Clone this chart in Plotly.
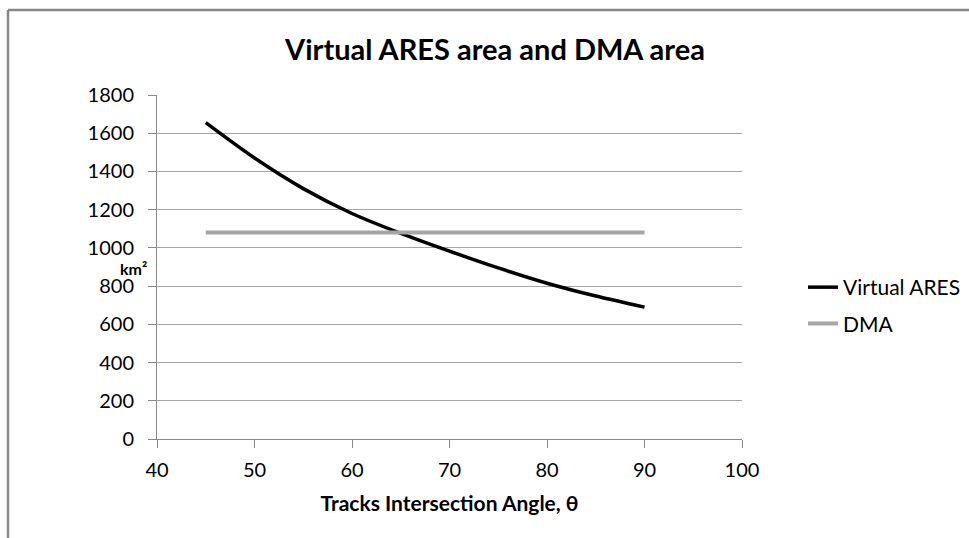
import plotly.graph_objects as go

# Data
theta = [45, 50, 55, 60, 65, 70, 75, 80, 85, 90]
virtual_ares = [1655, 1470, 1310, 1180, 1076, 983, 895, 815, 748, 690]
dma_theta = [45, 90]
dma = [1080, 1080]

x_ticks = [40, 50, 60, 70, 80, 90, 100]
y_ticks = [0, 200, 400, 600, 800, 1000, 1200, 1400, 1600, 1800]

FONT = "Lato"
W, H = 969, 538
L, R, T, B = 157, 227, 95, 99
pw, ph = W - L - R, H - T - B

fig = go.Figure()
fig.add_trace(go.Scatter(
    x=theta, y=virtual_ares, mode="lines", name="Virtual ARES",
    line=dict(color="black", width=3.5, shape="spline", smoothing=0.8),
    legendgroup="a",
))
fig.add_trace(go.Scatter(
    x=dma_theta, y=dma, mode="lines", name="DMA",
    line=dict(color="#A6A6A6", width=4),
    legendgroup="b",
))

def px_x(p):
    return (p - L) / pw

def px_y(p):
    return 1 - (p - T) / ph

fig.update_layout(
    width=W, height=H,
    margin=dict(l=L, r=R, t=T, b=B, autoexpand=False),
    paper_bgcolor="white", plot_bgcolor="white",
    font=dict(family=FONT, color="black", size=20),
    title=dict(
        text="<b>Virtual ARES area and DMA area</b>",
        x=495 / W, xanchor="center", y=1 - 50 / H, yanchor="middle",
        font=dict(size=29, family=FONT, color="black"),
    ),
    xaxis=dict(
        range=[40, 100], tickvals=x_ticks, ticktext=[str(v) for v in x_ticks],
        showgrid=False, showline=True, linecolor="#888888", linewidth=1,
        ticks="outside", ticklen=8, tickcolor="#888888", tickwidth=1,
        ticklabelstandoff=5, zeroline=False,
        tickfont=dict(size=20, family=FONT, color="black"),
        title=dict(text="<b>Tracks Intersection Angle, θ</b>",
                   font=dict(size=21, family=FONT, color="black"), standoff=16),
    ),
    yaxis=dict(
        range=[0, 1800], tickvals=y_ticks, ticktext=[str(v) for v in y_ticks],
        showgrid=True, gridcolor="#A6A6A6", gridwidth=1,
        showline=True, linecolor="#888888", linewidth=1,
        ticks="outside", ticklen=8, tickcolor="#888888", tickwidth=1,
        ticklabelstandoff=10, zeroline=False,
        tickfont=dict(size=20, family=FONT, color="black"),
    ),
    legend=dict(
        x=px_x(803), y=px_y(267), xanchor="left", yanchor="top",
        font=dict(size=21, family=FONT, color="black"),
        bgcolor="rgba(0,0,0,0)", traceorder="grouped", tracegroupgap=6,
        itemwidth=30,
    ),
    showlegend=True,
)

fig.add_annotation(
    text="<b>km²</b>", x=px_x(149), y=px_y(268),
    xref="paper", yref="paper", xanchor="right", yanchor="middle",
    showarrow=False, font=dict(size=16, family=FONT, color="black"),
)

# Outer chart frame (top and left edges visible)
fig.add_shape(type="line", xref="paper", yref="paper",
              x0=px_x(8), x1=px_x(W + 5), y0=px_y(10), y1=px_y(10),
              line=dict(color="#888888", width=2.5), layer="above")
fig.add_shape(type="line", xref="paper", yref="paper",
              x0=px_x(8), x1=px_x(8), y0=px_y(10), y1=px_y(H + 5),
              line=dict(color="#888888", width=2.5), layer="above")

fig.write_html("out.html", config={"displayModeBar": False},
               post_script="document.body.style.margin='0';")
